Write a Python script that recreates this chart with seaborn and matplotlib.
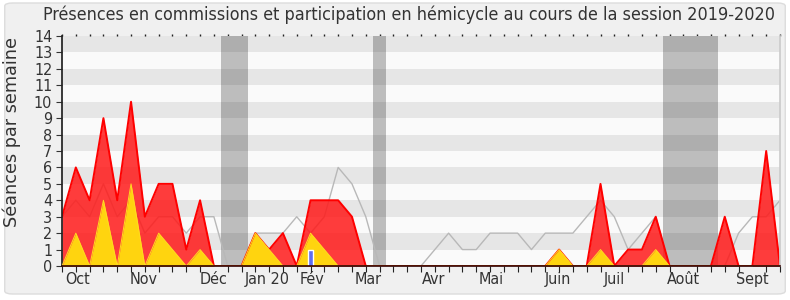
import matplotlib
matplotlib.use("Agg")
import matplotlib.pyplot as plt
from matplotlib.patches import FancyBboxPatch
import seaborn as sns
import numpy as np
import pandas as pd

# ---- data (weekly, session 2019-2020) ----
weeks = list(range(53))
presence_totale = [3, 6, 4, 9, 4, 10, 3, 5, 5, 1, 4, 0, 0, 0, 2, 1, 2, 0, 4, 4,
                   4, 3, 0, 0, 0, 0, 0, 0, 0, 0, 0, 0, 0, 0, 0, 0, 1, 0, 0, 5,
                   0, 1, 1, 3, 0, 0, 0, 0, 3, 0, 0, 7, 0]
presence_commission = [0, 2, 0, 4, 0, 5, 0, 2, 1, 0, 1, 0, 0, 0, 2, 1, 0, 0, 2, 1,
                       0, 0, 0, 0, 0, 0, 0, 0, 0, 0, 0, 0, 0, 0, 0, 0, 1, 0, 0, 1,
                       0, 0, 0, 1, 0, 0, 0, 0, 0, 0, 0, 0, 0]
mediane_deputes = [3, 4, 3, 5, 3, 4, 2, 3, 3, 2, 3, 3, 0, 0, 2, 2, 2, 3, 2, 3,
                   6, 5, 3, 0, 0, 0, 0, 1, 2, 1, 1, 2, 2, 2, 1, 2, 2, 2, 3, 4,
                   3, 1, 2, 3, 0, 0, 0, 0, 0, 2, 3, 3, 4]
question_week = [18]
question_value = [1]
vacances = [(11.5, 13.5), (22.5, 23.5), (43.5, 47.5)]
month_pos = [1.1, 5.9, 11.0, 14.85, 18.1, 22.2, 26.9, 31.1, 35.9, 40.0, 45.0, 50.0]
month_labels = ["Oct", "Nov", "Déc", "Jan 20", "Fév", "Mar", "Avr", "Mai",
                "Juin", "Juil", "Août", "Sept"]
yticks = list(range(15))

df = pd.DataFrame({"semaine": weeks, "total": presence_totale,
                   "commission": presence_commission, "mediane": mediane_deputes})

sns.set_theme(style="white")
plt.rcParams["font.family"] = ["DejaVu Sans"]
plt.rcParams["font.stretch"] = "condensed"

fig = plt.figure(figsize=(7.9, 3.0), dpi=100)
fig.patch.set_facecolor("#ffffff")
fig.patches.append(FancyBboxPatch((0.006, 0.02), 0.988, 0.97,
                                  boxstyle="round,pad=0,rounding_size=0.01",
                                  transform=fig.transFigure, facecolor="#f0f0f0",
                                  edgecolor="#dcdcdc", linewidth=1, zorder=-10))
ax = fig.add_axes([62 / 790, 34 / 300, 718 / 790, 230 / 300])
ax.set_facecolor("#fafafa")

for a, b in vacances:
    ax.axvspan(a, b, color="#bdbdbd", lw=0, zorder=0.5)
for lo in range(1, 14, 2):
    ax.axhspan(lo, lo + 1, color="black", alpha=0.08, lw=0, zorder=0.6)

sns.lineplot(data=df, x="semaine", y="mediane", color="#b8b8b8", lw=1.0, ax=ax,
             zorder=1)
ax.fill_between(df["semaine"], df["total"], color="#ff1a1a", alpha=0.85, lw=0,
                zorder=2)
sns.lineplot(data=df, x="semaine", y="total", color="#ff0000", lw=1.4, ax=ax,
             zorder=2.1)
ax.fill_between(df["semaine"], df["commission"], color="#ffd40f", lw=0, zorder=3)
sns.lineplot(data=df, x="semaine", y="commission", color="#ffdc20", lw=0.7, ax=ax,
             zorder=3.1)
ax.bar(question_week, question_value, width=0.3, color="#5f6cf0", zorder=4)

ax.set_xlim(0, 52)
ax.set_ylim(0, 14)
ax.set_yticks(yticks)
ax.set_yticklabels([str(v) for v in yticks], fontsize=11.5, color="#333333")
ax.set_xticks(month_pos)
ax.set_xticklabels(month_labels, fontsize=11.5, color="#333333")
ax.set_xticks(weeks, minor=True)
ax.tick_params(axis="x", which="major", length=0, pad=4)
ax.tick_params(axis="x", which="minor", length=4, width=0.8, color="#222222",
               top=False, bottom=True, direction="out")
ax.tick_params(axis="y", which="major", length=4, width=0.8, color="#333333",
               left=True, pad=3)
ax.set_xlabel("")
ax.set_ylabel("")
ax.spines["top"].set_visible(False)
ax.spines["right"].set_color("#cccccc")
ax.spines["left"].set_color("#222222")
ax.spines["bottom"].set_color("#300000")
ax.spines["bottom"].set_linewidth(1.2)
ax.spines["bottom"].set_zorder(5)
ax.grid(False)

top = ax.secondary_xaxis("top")
top.set_xticks(weeks)
top.tick_params(axis="x", length=1.5, width=1.0, color="#222222", labeltop=False,
                direction="out")
top.spines["top"].set_visible(False)

fig.text(409 / 790, 1 - 15 / 300,
         "Présences en commissions et participation en hémicycle au cours de la session 2019-2020",
         ha="center", va="center", fontsize=12.85, color="#333333")
fig.text(12 / 790, 1 - 132 / 300, "Séances par semaine", rotation=90,
         ha="center", va="center", fontsize=12.7, fontstretch="normal",
         color="#333333")

fig.savefig("out.png", dpi=100, facecolor=fig.get_facecolor())
